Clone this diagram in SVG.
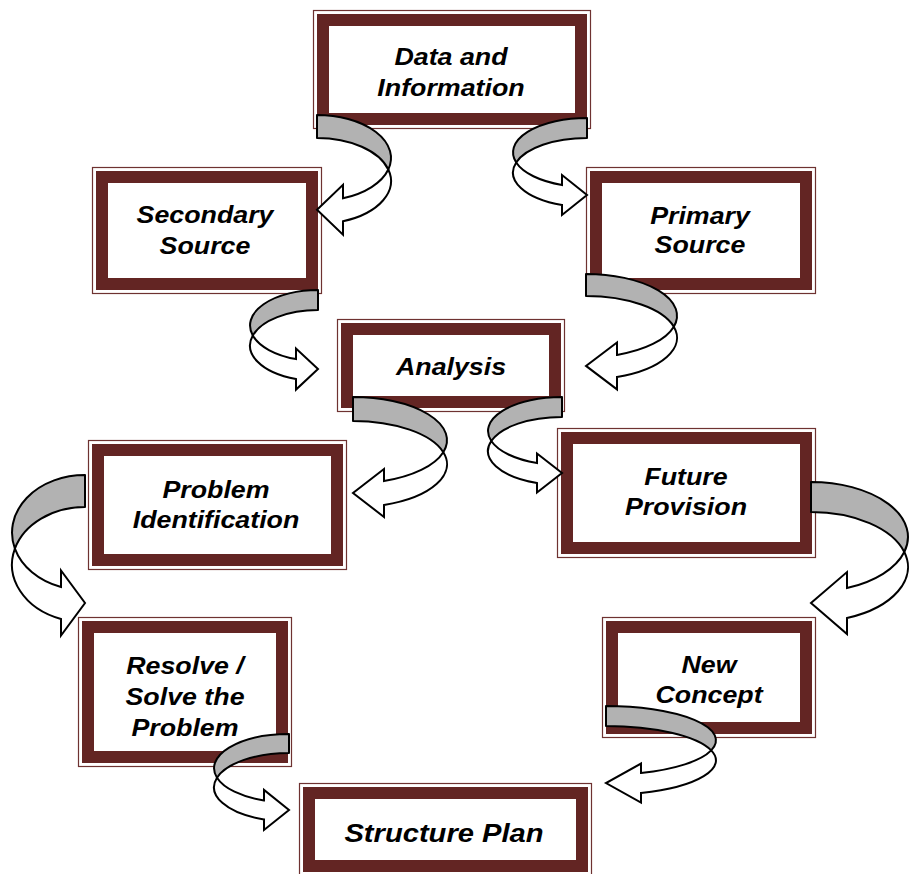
<svg xmlns="http://www.w3.org/2000/svg" width="910" height="874" viewBox="0 0 910 874">
<style>
.outer{fill:#fff;stroke:#6e3231;stroke-width:1.2}
.band{fill:none;stroke:#632523;stroke-width:12}
.lbl{font-family:"Liberation Sans",Arial,sans-serif;font-weight:bold;font-style:italic;font-size:23.5px;fill:#000;text-anchor:middle}
.big{font-size:26.5px}
.back{fill:#b2b2b2;stroke:#000;stroke-width:2;stroke-linejoin:round}
.front{fill:#fff;stroke:#000;stroke-width:2;stroke-linejoin:miter}
</style>
<rect width="910" height="874" fill="#fff"/>
<g id="nodes">
<g id="data">
<rect class="outer" x="313.5" y="10.5" width="277" height="118"/>
<rect class="band" x="323" y="20" width="258" height="99"/>
<text class="lbl" transform="translate(451,0) scale(1.14 1)"><tspan x="0" y="65">Data and</tspan><tspan x="0" y="96">Information</tspan></text>
</g>
<g id="secondary">
<rect class="outer" x="92.5" y="167.5" width="229" height="126"/>
<rect class="band" x="102" y="177" width="210" height="107"/>
<text class="lbl" transform="translate(205,0) scale(1.14 1)"><tspan x="0" y="223">Secondary</tspan><tspan x="0" y="254">Source</tspan></text>
</g>
<g id="primary">
<rect class="outer" x="586.5" y="167.5" width="229" height="126"/>
<rect class="band" x="596" y="177" width="210" height="107"/>
<text class="lbl" transform="translate(700,0) scale(1.14 1)"><tspan x="0" y="224">Primary</tspan><tspan x="0" y="253">Source</tspan></text>
</g>
<g id="analysis">
<rect class="outer" x="337.5" y="319.5" width="227" height="92"/>
<rect class="band" x="347" y="329" width="208" height="73"/>
<text class="lbl" transform="translate(451,0) scale(1.14 1)"><tspan x="0" y="375">Analysis</tspan></text>
</g>
<g id="problem">
<rect class="outer" x="88.5" y="440.5" width="258" height="129"/>
<rect class="band" x="98" y="450" width="239" height="110"/>
<text class="lbl" transform="translate(216,0) scale(1.14 1)"><tspan x="0" y="498">Problem</tspan><tspan x="0" y="528">Identification</tspan></text>
</g>
<g id="future">
<rect class="outer" x="557.5" y="428.5" width="258" height="129"/>
<rect class="band" x="567" y="438" width="239" height="110"/>
<text class="lbl" transform="translate(686,0) scale(1.14 1)"><tspan x="0" y="485">Future</tspan><tspan x="0" y="515">Provision</tspan></text>
</g>
<g id="resolve">
<rect class="outer" x="78.5" y="617.5" width="213" height="149"/>
<rect class="band" x="88" y="627" width="194" height="130"/>
<text class="lbl" transform="translate(185,0) scale(1.14 1)"><tspan x="0" y="674">Resolve /</tspan><tspan x="0" y="705">Solve the</tspan><tspan x="0" y="736">Problem</tspan></text>
</g>
<g id="newconcept">
<rect class="outer" x="602.5" y="617.5" width="213" height="120"/>
<rect class="band" x="612" y="627" width="194" height="101"/>
<text class="lbl" transform="translate(709,0) scale(1.14 1)"><tspan x="0" y="673">New</tspan><tspan x="0" y="703">Concept</tspan></text>
</g>
<g id="structure">
<rect class="outer" x="299.5" y="783.5" width="292" height="92"/>
<rect class="band" x="309" y="793" width="273" height="73"/>
<text class="lbl big" transform="translate(444,0) scale(1.1 1)"><tspan x="0" y="842">Structure Plan</tspan></text>
</g>
</g>
<g id="connectors">
<g transform="translate(317,115)">
<path class="back" d="M0,0 A74,43 0 0 1 71.3,54.5 A74,43 0 0 0 0,23 Z"/>
<path class="front" d="M71.3,54.5 A74,43 0 0 1 26,106.26 L26,119.76 L0,94.76 L26,69.76 L26,83.26 A74,43 0 0 0 71.3,54.5 Z"/>
</g>
<g transform="translate(587,118) scale(-1,1)">
<path class="back" d="M0,0 A74,34.5 0 0 1 70.8,44.5 A74,34.5 0 0 0 0,20 Z"/>
<path class="front" d="M70.8,44.5 A74,34.5 0 0 1 25,86.97 L25,96.97 L0,76.97 L25,56.97 L25,66.97 A74,34.5 0 0 0 70.8,44.5 Z"/>
</g>
<g transform="translate(318,290) scale(-1,1)">
<path class="back" d="M0,0 A68,35.5 0 0 1 65.2,45.5 A68,35.5 0 0 0 0,20 Z"/>
<path class="front" d="M65.2,45.5 A68,35.5 0 0 1 22,89.09 L22,99.59 L0,79.09 L22,58.59 L22,69.09 A68,35.5 0 0 0 65.2,45.5 Z"/>
</g>
<g transform="translate(586,274)">
<path class="back" d="M0,0 A91,41.7 0 0 1 87.8,52.7 A91,41.7 0 0 0 0,22 Z"/>
<path class="front" d="M87.8,52.7 A91,41.7 0 0 1 31,102.91 L31,115.41 L0,91.91 L31,68.41 L31,80.91 A91,41.7 0 0 0 87.8,52.7 Z"/>
</g>
<g transform="translate(353,397)">
<path class="back" d="M0,0 A94,43.2 0 0 1 90.3,55.2 A94,43.2 0 0 0 0,24 Z"/>
<path class="front" d="M90.3,55.2 A94,43.2 0 0 1 31,107.98 L31,119.98 L0,95.98 L31,71.98 L31,83.98 A94,43.2 0 0 0 90.3,55.2 Z"/>
</g>
<g transform="translate(562,397) scale(-1,1)">
<path class="back" d="M0,0 A74,34 0 0 1 70.7,44 A74,34 0 0 0 0,20 Z"/>
<path class="front" d="M70.7,44 A74,34 0 0 1 25,86 L25,95.5 L0,76 L25,56.5 L25,66 A74,34 0 0 0 70.7,44 Z"/>
</g>
<g transform="translate(85,475) scale(-1,1)">
<path class="back" d="M0,0 A73,57.6 0 0 1 70.1,73.6 A73,57.6 0 0 0 0,32 Z"/>
<path class="front" d="M70.1,73.6 A73,57.6 0 0 1 24,144 L24,160.5 L0,128 L24,95.5 L24,112 A73,57.6 0 0 0 70.1,73.6 Z"/>
</g>
<g transform="translate(811,482)">
<path class="back" d="M0,0 A97,55 0 0 1 93.3,70 A97,55 0 0 0 0,30 Z"/>
<path class="front" d="M93.3,70 A97,55 0 0 1 36,136.07 L36,152.07 L0,121.07 L36,90.07 L36,106.07 A97,55 0 0 0 93.3,70 Z"/>
</g>
<g transform="translate(289,734) scale(-1,1)">
<path class="back" d="M0,0 A75,34.2 0 0 1 72,43.7 A75,34.2 0 0 0 0,19 Z"/>
<path class="front" d="M72,43.7 A75,34.2 0 0 1 25,85.44 L25,95.94 L0,75.94 L25,55.94 L25,66.44 A75,34.2 0 0 0 72,43.7 Z"/>
</g>
<g transform="translate(606,706)">
<path class="back" d="M0,0 A110,34.4 0 0 1 105.2,44.4 A110,34.4 0 0 0 0,20 Z"/>
<path class="front" d="M105.2,44.4 A110,34.4 0 0 1 35,87.01 L35,96.51 L0,77.01 L35,57.51 L35,67.01 A110,34.4 0 0 0 105.2,44.4 Z"/>
</g>
</g>
</svg>
